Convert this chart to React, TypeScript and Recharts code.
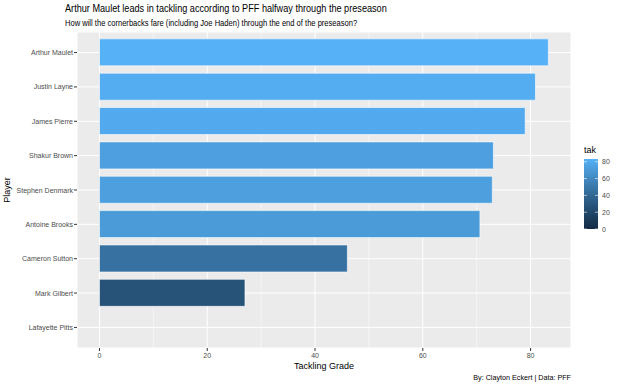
import { Bar, BarChart, CartesianGrid, Cell, Legend, XAxis, YAxis } from "recharts";

const players = [
  "Arthur Maulet",
  "Justin Layne",
  "James Pierre",
  "Shakur Brown",
  "Stephen Denmark",
  "Antoine Brooks",
  "Cameron Sutton",
  "Mark Gilbert",
  "Lafayette Pitts",
];
const tak = [83.3, 80.9, 79.0, 73.1, 72.9, 70.6, 46.0, 27.0, 0];
const xTicks = [0, 20, 40, 60, 80];
const minorTicks = [10, 30, 50, 70];
const legendTicks = [0, 20, 40, 60, 80];
const xDomain = [-4.17, 87.5];

const data = players.map((player, i) => ({ player, tak: tak[i] }));

const FONT = "'Liberation Sans', Arial, Helvetica, sans-serif";
const LOW = "#132B43";
const HIGH = "#56B1F7";
const MARGIN = { top: 32, right: 49, bottom: 0, left: 0 };
const Y_AXIS_W = 77;

// ggplot's default continuous fill: interpolate low -> high in Lab space
const toLab = (hex: string) => {
  const c = [1, 3, 5].map((i) => parseInt(hex.slice(i, i + 2), 16) / 255);
  const [r, g, b] = c.map((v) => (v <= 0.04045 ? v / 12.92 : Math.pow((v + 0.055) / 1.055, 2.4)));
  const X = (0.4124 * r + 0.3576 * g + 0.1805 * b) / 0.95047;
  const Y = 0.2126 * r + 0.7152 * g + 0.0722 * b;
  const Z = (0.0193 * r + 0.1192 * g + 0.9505 * b) / 1.08883;
  const f = (t: number) => (t > 0.008856 ? Math.cbrt(t) : 7.787 * t + 16 / 116);
  const fx = f(X), fy = f(Y), fz = f(Z);
  return [116 * fy - 16, 500 * (fx - fy), 200 * (fy - fz)];
};
const fromLab = ([L, a, bb]: number[]) => {
  const fy = (L + 16) / 116;
  const fx = fy + a / 500;
  const fz = fy - bb / 200;
  const inv = (t: number) => (t * t * t > 0.008856 ? t * t * t : (t - 16 / 116) / 7.787);
  const X = inv(fx) * 0.95047, Y = inv(fy), Z = inv(fz) * 1.08883;
  const lin = [
    3.2406 * X - 1.5372 * Y - 0.4986 * Z,
    -0.9689 * X + 1.8758 * Y + 0.0415 * Z,
    0.0557 * X - 0.204 * Y + 1.057 * Z,
  ];
  return (
    "#" +
    lin
      .map((v) => {
        const s = v <= 0.0031308 ? 12.92 * v : 1.055 * Math.pow(Math.max(v, 0), 1 / 2.4) - 0.055;
        const n = Math.round(Math.min(1, Math.max(0, s)) * 255);
        return n.toString(16).padStart(2, "0");
      })
      .join("")
  );
};
const lowLab = toLab(LOW);
const highLab = toLab(HIGH);
const minTak = Math.min(...tak);
const maxTak = Math.max(...tak);
const fillFor = (v: number) => {
  const t = (v - minTak) / (maxTak - minTak);
  return fromLab(lowLab.map((l, i) => l + (highLab[i] - l) * t));
};

const ColorBar = () => {
  const barH = 70;
  const barW = 14;
  const top = 17;
  const yOf = (v: number) => top + barH - ((v - minTak) / (maxTak - minTak)) * barH;
  const stops = Array.from({ length: 11 }, (_, i) => i / 10);
  return (
    <svg width={40} height={100} style={{ display: "block", fontFamily: FONT }}>
      <defs>
        <linearGradient id="takGrad" x1="0" y1="1" x2="0" y2="0">
          {stops.map((s) => (
            <stop key={s} offset={s} stopColor={fillFor(minTak + s * (maxTak - minTak))} />
          ))}
        </linearGradient>
      </defs>
      <text x={0} y={11} fontSize={9} fill="#000">tak</text>
      <rect x={0} y={top} width={barW} height={barH} fill="url(#takGrad)" />
      {legendTicks.map((v) => (
        <g key={v}>
          <line x1={0} x2={3} y1={yOf(v)} y2={yOf(v)} stroke="#fff" strokeWidth={0.6} />
          <line x1={barW - 3} x2={barW} y1={yOf(v)} y2={yOf(v)} stroke="#fff" strokeWidth={0.6} />
          <text x={barW + 4} y={yOf(v) + 2.5} fontSize={7} fill="#4D4D4D">{v}</text>
        </g>
      ))}
    </svg>
  );
};

const PlayerTick = ({ x, y, payload }: any) => (
  <text x={x} y={y} dy={2.5} textAnchor="end" fontSize={7} fill="#4D4D4D" fontFamily={FONT}>
    {payload.value}
  </text>
);

// minor vertical gridlines, placed on the same linear x scale as the axis
const minorLines = (props: any) => {
  const left = props?.offset?.left ?? MARGIN.left + Y_AXIS_W;
  const w = props?.offset?.width ?? 620 - MARGIN.right - left;
  return minorTicks.map((m) => left + ((m - xDomain[0]) / (xDomain[1] - xDomain[0])) * w);
};

export default function App() {
  document.body.style.margin = "0";
  return (
    <div style={{ position: "relative", width: 620, height: 386, background: "#fff", fontFamily: FONT }}>
      <div
        style={{
          position: "absolute",
          left: 65,
          top: 2,
          fontSize: 11,
          color: "#000",
          whiteSpace: "nowrap",
          transform: "scaleX(0.83)",
          transformOrigin: "left top",
        }}
      >
        Arthur Maulet leads in tackling according to PFF halfway through the preseason
      </div>
      <div
        style={{
          position: "absolute",
          left: 65,
          top: 18,
          fontSize: 8.6,
          color: "#000",
          whiteSpace: "nowrap",
          transform: "scaleX(0.88)",
          transformOrigin: "left top",
        }}
      >
        How will the cornerbacks fare (including Joe Haden) through the end of the preseason?
      </div>
      <BarChart width={620} height={386} data={data} layout="vertical" barCategoryGap="10%" margin={MARGIN}>
        <CartesianGrid fill="#EBEBEB" stroke="#fff" strokeWidth={1} />
        <CartesianGrid horizontal={false} stroke="#fff" strokeWidth={0.5} verticalCoordinatesGenerator={minorLines} />
        <XAxis
          type="number"
          domain={xDomain}
          allowDataOverflow
          ticks={xTicks}
          axisLine={false}
          tickLine={{ stroke: "#333" }}
          tickSize={3}
          tickMargin={2}
          height={38}
          tick={{ fontSize: 7, fill: "#4D4D4D", fontFamily: FONT }}
          label={({ viewBox }: any) => (
            <text
              x={viewBox.x + viewBox.width / 2}
              y={viewBox.y + 21}
              textAnchor="middle"
              fontSize={9}
              fill="#000"
              fontFamily={FONT}
            >
              Tackling Grade
            </text>
          )}
        />
        <YAxis
          type="category"
          dataKey="player"
          width={Y_AXIS_W}
          padding={{ top: 3.4, bottom: 3.4 }}
          axisLine={false}
          tickLine={{ stroke: "#333" }}
          tickSize={3}
          tickMargin={1}
          interval={0}
          tick={<PlayerTick />}
          label={({ viewBox }: any) => {
            const x = viewBox.x + 10;
            const y = viewBox.y + viewBox.height / 2;
            return (
              <text
                x={x}
                y={y}
                transform={`rotate(-90 ${x} ${y})`}
                textAnchor="middle"
                fontSize={9}
                fill="#000"
                fontFamily={FONT}
              >
                Player
              </text>
            );
          }}
        />
        <Legend
          layout="horizontal"
          verticalAlign="middle"
          align="center"
          wrapperStyle={{ left: 584, top: 142, width: 40, height: 100 }}
          content={() => <ColorBar />}
        />
        <Bar dataKey="tak" isAnimationActive={false} stroke="#fff" strokeWidth={0.6}>
          {data.map((d) => (
            <Cell key={d.player} fill={fillFor(d.tak)} />
          ))}
        </Bar>
      </BarChart>
      <div style={{ position: "absolute", right: 49, top: 373, fontSize: 7.2, color: "#000", whiteSpace: "nowrap" }}>
        By: Clayton Eckert | Data: PFF
      </div>
    </div>
  );
}
